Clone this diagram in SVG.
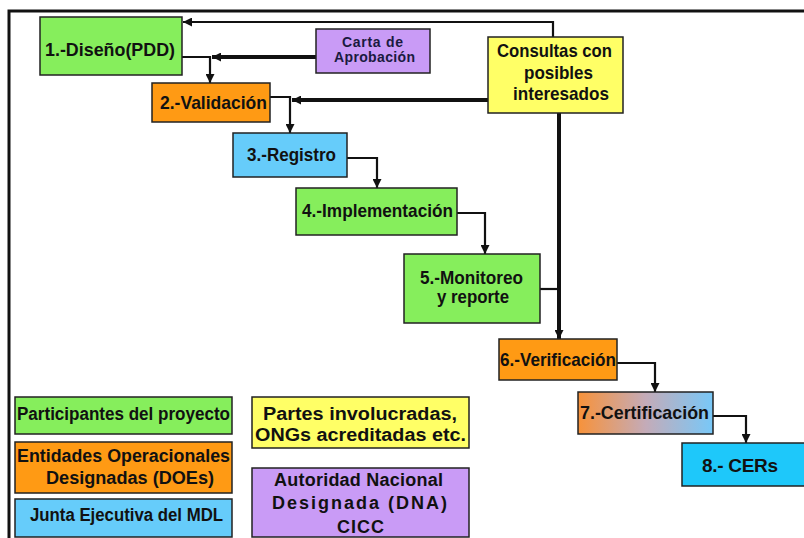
<svg xmlns="http://www.w3.org/2000/svg" width="804" height="538" viewBox="0 0 804 538">
<style>
.box{stroke:#222;stroke-width:1.5}
.t{font-family:"Liberation Sans",Arial,sans-serif;font-weight:bold;font-size:19px;fill:#111;text-anchor:middle}
.l{font-size:18px}
.s{font-size:14px;fill:#1a1a40}
.c{stroke:#111;fill:none;stroke-width:2.2}
.k{stroke-width:4}
</style>
<defs>
<marker id="arr" viewBox="0 0 10 10" refX="10" refY="5" markerWidth="9" markerHeight="9" markerUnits="userSpaceOnUse" orient="auto"><path d="M0,0 L10,5 L0,10 z" fill="#111"/></marker>
<linearGradient id="g7" x1="0" y1="0" x2="1" y2="0">
<stop offset="0" stop-color="#f7923a"/>
<stop offset="0.5" stop-color="#c4abb8"/>
<stop offset="1" stop-color="#78c8f8"/>
</linearGradient>
</defs>
<rect x="0" y="0" width="804" height="538" fill="#fff"/>
<path d="M9,538 V11 H804" fill="none" stroke="#111" stroke-width="3"/>

<g id="connectors">
<path class="c" d="M553,37 V22 H183" marker-end="url(#arr)"/>
<path class="c k" d="M316,57 H212" marker-end="url(#arr)"/>
<path class="c" d="M182,57 H210 V83" marker-end="url(#arr)"/>
<path class="c k" d="M488,100 H292" marker-end="url(#arr)"/>
<path class="c" d="M270,97 H290 V133" marker-end="url(#arr)"/>
<path class="c" d="M347,158 H377 V188" marker-end="url(#arr)"/>
<path class="c" d="M457,213 H485 V254" marker-end="url(#arr)"/>
<path class="c" d="M540,289 H559"/>
<path class="c k" d="M559,113 V339" marker-end="url(#arr)"/>
<path class="c" d="M617,363 H655 V392" marker-end="url(#arr)"/>
<path class="c" d="M713,416 H746 V443" marker-end="url(#arr)"/>
</g>

<g id="n1"><rect class="box" x="40" y="17" width="142" height="58" fill="#86ee5c"/><text class="t" x="110" y="56" textLength="130" lengthAdjust="spacingAndGlyphs">1.-Diseño(PDD)</text></g>
<g id="carta"><rect class="box" x="316" y="29" width="114" height="44" fill="#c99bf6"/><text class="t s" x="372.5" y="47" textLength="61">Carta de</text><text class="t s" x="374.5" y="62" textLength="81">Aprobación</text></g>
<g id="consultas"><rect class="box" x="488" y="37" width="135" height="76" fill="#ffff66"/><text class="t" x="554.5" y="57" textLength="115" lengthAdjust="spacingAndGlyphs">Consultas con</text><text class="t" x="558.5" y="79" textLength="69" lengthAdjust="spacingAndGlyphs">posibles</text><text class="t" x="561" y="100" textLength="96" lengthAdjust="spacingAndGlyphs">interesados</text></g>
<g id="n2"><rect class="box" x="152" y="83" width="118" height="39" fill="#ff9a14"/><text class="t" x="213.5" y="109" textLength="107" lengthAdjust="spacingAndGlyphs">2.-Validación</text></g>
<g id="n3"><rect class="box" x="233" y="133" width="114" height="44" fill="#66ccfa"/><text class="t" x="291.5" y="161" textLength="89" lengthAdjust="spacingAndGlyphs">3.-Registro</text></g>
<g id="n4"><rect class="box" x="296" y="188" width="161" height="47" fill="#86ee5c"/><text class="t" x="377.5" y="217" textLength="151" lengthAdjust="spacingAndGlyphs">4.-Implementación</text></g>
<g id="n5"><rect class="box" x="404" y="254" width="136" height="69" fill="#86ee5c"/><text class="t" x="471.5" y="284" textLength="103" lengthAdjust="spacingAndGlyphs">5.-Monitoreo</text><text class="t" x="473" y="303" textLength="72" lengthAdjust="spacingAndGlyphs">y reporte</text></g>
<g id="n6"><rect class="box" x="499" y="339" width="118" height="41" fill="#ff9a14"/><text class="t" x="558" y="366" textLength="116" lengthAdjust="spacingAndGlyphs">6.-Verificación</text></g>
<g id="n7"><rect class="box" x="578" y="392" width="135" height="42" fill="url(#g7)"/><text class="t" x="644.5" y="419" textLength="129" lengthAdjust="spacingAndGlyphs">7.-Certificación</text></g>
<g id="n8"><rect class="box" x="682" y="443" width="124" height="43" fill="#1ec8fa"/><text class="t" x="740" y="472" font-size="15" fill="#1b2a5c" textLength="76">8.- CERs</text></g>

<g id="leg1"><rect class="box" x="15" y="397" width="217" height="37" fill="#86ee5c"/><text class="t l" x="123.5" y="420" textLength="213" lengthAdjust="spacingAndGlyphs">Participantes del proyecto</text></g>
<g id="leg2"><rect class="box" x="15" y="442" width="217" height="51" fill="#ff9a14"/><text class="t l" x="123.5" y="462" textLength="213" lengthAdjust="spacingAndGlyphs">Entidades Operacionales</text><text class="t l" x="130" y="484" textLength="168" lengthAdjust="spacingAndGlyphs">Designadas (DOEs)</text></g>
<g id="leg3"><rect class="box" x="15" y="499" width="217" height="38" fill="#66ccfa"/><text class="t l" x="126.5" y="521" textLength="193" lengthAdjust="spacingAndGlyphs">Junta Ejecutiva del MDL</text></g>
<g id="leg4"><rect class="box" x="252" y="397" width="217" height="51" fill="#ffff66"/><text class="t l" x="360" y="420" textLength="194" lengthAdjust="spacingAndGlyphs">Partes involucradas,</text><text class="t l" x="360.5" y="441" textLength="211" lengthAdjust="spacingAndGlyphs">ONGs acreditadas etc.</text></g>
<g id="leg5"><rect class="box" x="252" y="468" width="217" height="69" fill="#c99bf6"/><text class="t l" x="358.5" y="486" textLength="169">Autoridad Nacional</text><text class="t l" x="359.5" y="509" textLength="175">Designada (DNA)</text><text class="t l" x="360.5" y="533" textLength="47">CICC</text></g>
</svg>
